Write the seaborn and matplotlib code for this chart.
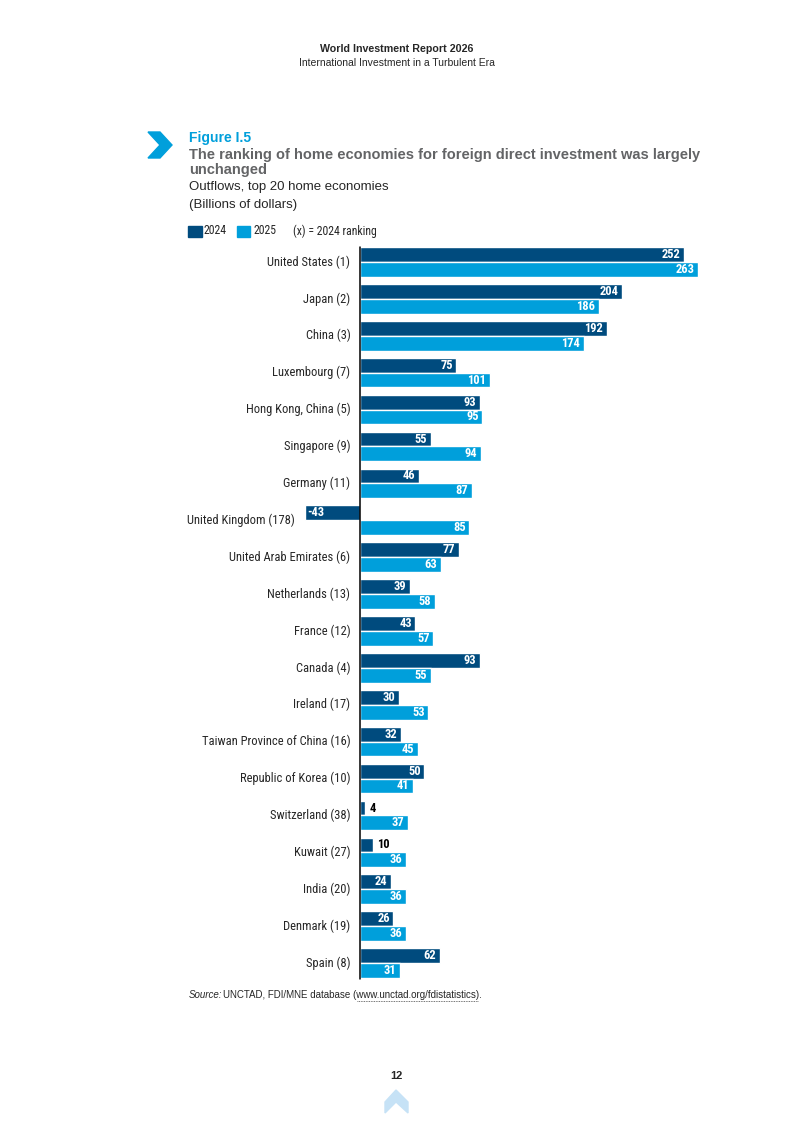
import seaborn as sns
from matplotlib import pyplot as plt
from matplotlib.patches import Polygon, Rectangle
from matplotlib.lines import Line2D
import pandas as pd

economies = ['United States (1)', 'Japan (2)', 'China (3)', 'Luxembourg (7)',
             'Hong Kong, China (5)', 'Singapore (9)', 'Germany (11)',
             'United Kingdom (178)', 'United Arab Emirates (6)',
             'Netherlands (13)', 'France (12)', 'Canada (4)', 'Ireland (17)',
             'Taiwan Province of China (16)', 'Republic of Korea (10)',
             'Switzerland (38)', 'Kuwait (27)', 'India (20)', 'Denmark (19)',
             'Spain (8)']
flows_2024 = [252, 204, 192, 75, 93, 55, 46, -43, 77, 39, 43, 93, 30, 32, 50,
              4, 10, 24, 26, 62]
flows_2025 = [263, 186, 174, 101, 95, 94, 87, 85, 63, 58, 57, 55, 53, 45, 41,
              37, 36, 36, 36, 31]
years = ['2024', '2025']

DARK = '#004B7E'
LIGHT = '#009FDB'
W, H = 793, 1121
NARROW = ['Roboto Condensed', 'Liberation Sans', 'DejaVu Sans']


def fx(px):
    return px / W


def fy(py):
    return 1 - py / H


sns.set_style('white')
plt.rcParams['font.family'] = ['Liberation Sans', 'DejaVu Sans']

df = pd.DataFrame({
    'economy': economies * 2,
    'value': flows_2024 + flows_2025,
    'year': [years[0]] * len(economies) + [years[1]] * len(economies),
})

fig = plt.figure(figsize=(W / 100, H / 100), dpi=100)
ax = fig.add_axes([fx(290), fy(981.5), (720 - 290) / W, 738 / H])
sns.barplot(data=df, y='economy', x='value', hue='year', order=economies,
            hue_order=years, palette=[DARK, LIGHT], orient='h', saturation=1,
            width=0.8, legend=False, ax=ax)
ax.set_xlim((290 - 360) / 1.285, (720 - 360) / 1.285)
ax.set_ylim(len(economies) - 0.5, -0.5)
ax.axvline(0, ymin=0.003, ymax=0.995, color='black', lw=1.1)
for s in ax.spines.values():
    s.set_visible(False)
ax.set_xticks([])
ax.set_yticks([])
ax.set_xlabel('')
ax.set_ylabel('')

# value labels
for cont in ax.containers:
    for bar in cont:
        v = bar.get_width()
        x0 = bar.get_x()
        yc = bar.get_y() + bar.get_height() / 2
        if v < 0:
            ax.annotate(f'{v:.0f}', (x0 + v, yc), xytext=(1.5, 0),
                        textcoords='offset points', ha='left', va='center',
                        color='white', fontweight='bold', fontsize=9,
                        family=NARROW)
        elif v < 15:
            ax.annotate(f'{v:.0f}', (x0 + v, yc), xytext=(3, 0),
                        textcoords='offset points', ha='left', va='center',
                        color='black', fontweight='bold', fontsize=9,
                        family=NARROW)
        else:
            ax.annotate(f'{v:.0f}', (x0 + v, yc), xytext=(-2.5, 0),
                        textcoords='offset points', ha='right', va='center',
                        color='white', fontweight='bold', fontsize=9,
                        family=NARROW)

# category labels
for i, name in enumerate(economies):
    left = min(0, flows_2024[i], flows_2025[i])
    ax.annotate(name, (left, i), xytext=(-7, 0), textcoords='offset points',
                ha='right', va='center', fontsize=9, family=NARROW)

# header
fig.text(0.5, fy(49), 'World Investment Report 2026', ha='center',
         va='center', fontsize=7.7, fontweight='bold')
fig.text(0.5, fy(63), 'International Investment in a Turbulent Era',
         ha='center', va='center', fontsize=7.5)

# chevron
chev = [(148, 132), (160, 132), (172, 145), (160, 158), (148, 158), (160, 145)]
fig.patches.append(Polygon([(fx(a), fy(b)) for a, b in chev], closed=True,
                           transform=fig.transFigure, color='#009FDB'))

fig.text(fx(189), fy(138), 'Figure I.5', ha='left', va='center',
         fontsize=10, fontweight='bold', color='#009FDB')
fig.text(fx(189), fy(155),
         'The ranking of home economies for foreign direct investment was largely',
         ha='left', va='center', fontsize=10.5, fontweight='bold', color='#636466')
fig.text(fx(189), fy(170), 'unchanged', ha='left', va='center', fontsize=10.5,
         fontweight='bold', color='#636466')
fig.text(fx(189), fy(187), 'Outflows, top 20 home economies', ha='left',
         va='center', fontsize=9.5)
fig.text(fx(189), fy(205), '(Billions of dollars)', ha='left', va='center',
         fontsize=9.5)

# legend
for x0, col, lab in [(188, DARK, years[0]), (237, LIGHT, years[1])]:
    fig.patches.append(Rectangle((fx(x0), fy(237)), 13.5 / W, 11 / H,
                                 transform=fig.transFigure, color=col))
    fig.text(fx(x0 + 16), fy(231), lab, ha='left', va='center', fontsize=8.5,
             family=NARROW)
fig.text(fx(293), fy(231), '(x) = 2024 ranking', ha='left', va='center',
         fontsize=8.5, family=NARROW)

# source
fig.text(fx(189), fy(995), 'Source:', ha='left', va='center', fontsize=7,
         style='italic')
fig.text(fx(223), fy(995), 'UNCTAD, FDI/MNE database (www.unctad.org/fdistatistics).',
         ha='left', va='center', fontsize=7)
fig.add_artist(Line2D([fx(357), fx(478)], [fy(1000.5), fy(1000.5)], lw=0.6,
                      ls=(0, (1, 1)), color='#444444'))

# page number and up chevron
fig.text(0.5, fy(1076), '12', ha='center', va='center', fontsize=8,
         fontweight='bold')
up = [(385, 1113), (385, 1102), (396, 1090), (408, 1102), (408, 1113), (396, 1102)]
fig.patches.append(Polygon([(fx(a), fy(b)) for a, b in up], closed=True,
                           transform=fig.transFigure, color='#C6E2F6'))

fig.savefig('out.png', dpi=100)
